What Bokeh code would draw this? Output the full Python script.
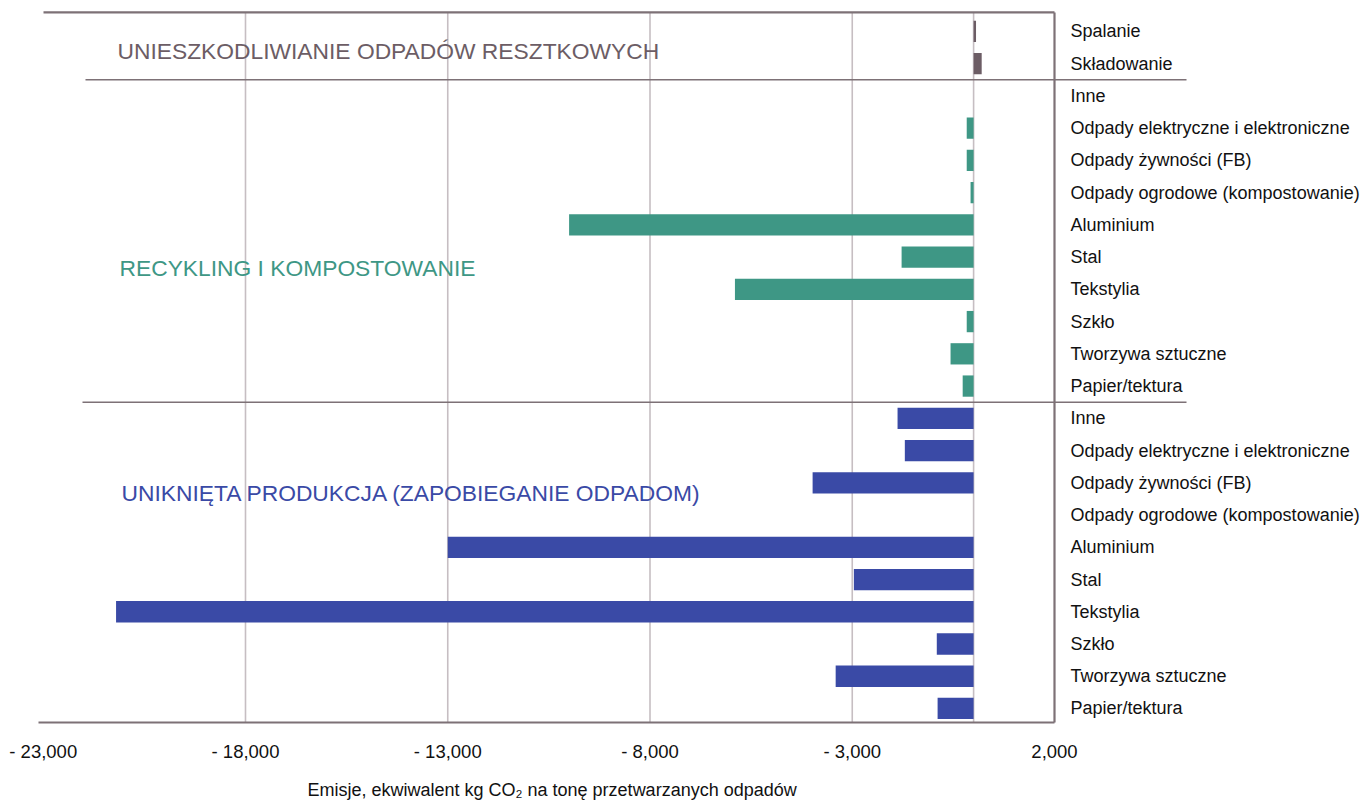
from bokeh.plotting import figure
from bokeh.models import Range1d, FixedTicker, Label, Title
from bokeh.core.properties import value
from bokeh.embed import file_html
from bokeh.resources import INLINE

# Emissions, kg CO2-equivalent per tonne of processed waste
residual_labels = ["Spalanie", "Składowanie"]
residual_values = [60, 200]

material_labels = [
    "Inne",
    "Odpady elektryczne i elektroniczne",
    "Odpady żywności (FB)",
    "Odpady ogrodowe (kompostowanie)",
    "Aluminium",
    "Stal",
    "Tekstylia",
    "Szkło",
    "Tworzywa sztuczne",
    "Papier/tektura",
]
recycling_values = [0, -170, -170, -75, -10000, -1780, -5900, -170, -570, -270]
prevention_values = [-1880, -1700, -3980, 0, -13000, -2960, -21200, -910, -3410, -890]

group_titles = [
    "UNIESZKODLIWIANIE ODPADÓW RESZTKOWYCH",
    "RECYKLING I KOMPOSTOWANIE",
    "UNIKNIĘTA PRODUKCJA (ZAPOBIEGANIE ODPADOM)",
]
x_ticks = [-23000, -18000, -13000, -8000, -3000, 2000]
x_title = "Emisje, ekwiwalent kg CO₂ na tonę przetwarzanych odpadów"

# colours
C_RES = "#6c5d65"
C_REC = "#3e9785"
C_PREV = "#3a4aa6"
C_FRAME = "#7d7176"
C_GRID = "#c6bec2"
C_TEXT = "#111111"
FONT = "Liberation Sans"

# page geometry (pixels)
W, H = 1367, 812
X0_PX, X1_PX = 42.75, 1054.0      # pixel positions of first / last tick
ROW0_PX, PITCH = 31.0, 32.33      # first row centre and row spacing
FRAME_BOTTOM = 730

ux = (x_ticks[-1] - x_ticks[0]) / (X1_PX - X0_PX)
x_start = x_ticks[0] - X0_PX * ux
x_end = x_ticks[-1] + (W - X1_PX) * ux
y_top = -ROW0_PX / PITCH
y_bottom = (FRAME_BOTTOM - ROW0_PX) / PITCH


def px_to_row(py):
    return (py - ROW0_PX) / PITCH


def px_to_x(px):
    return x_ticks[0] + (px - X0_PX) * ux


p = figure(
    width=W, height=H,
    x_range=Range1d(x_start, x_end),
    y_range=Range1d(y_bottom, y_top),
    output_backend="svg", toolbar_location=None,
    y_axis_location=None,
    min_border_left=0, min_border_right=0, min_border_top=0,
    min_border_bottom=H - FRAME_BOTTOM,
    background_fill_color="white", border_fill_color="white",
)
p.outline_line_color = None
p.xgrid.visible = False
p.ygrid.visible = False

res_rows = list(range(len(residual_labels)))
rec_rows = [len(res_rows) + i for i in range(len(material_labels))]
prev_rows = [len(res_rows) + len(material_labels) + i for i in range(len(material_labels))]

top_y = px_to_row(12)
bot_y = px_to_row(724)

# vertical grid lines and zero line
grid_x = x_ticks[1:-1] + [0]
p.segment(x0=grid_x, y0=[top_y] * len(grid_x), x1=grid_x, y1=[bot_y] * len(grid_x),
          line_color=C_GRID, line_width=1.6)

# bars
bar_kw = dict(left=0, height=0.66, line_color=None)
p.hbar(y=res_rows, right=residual_values, fill_color=C_RES, **bar_kw)
p.hbar(y=rec_rows, right=recycling_values, fill_color=C_REC, **bar_kw)
p.hbar(y=prev_rows, right=prevention_values, fill_color=C_PREV, **bar_kw)

# frame: top, right, bottom
p.segment(x0=[px_to_x(43)], y0=[top_y], x1=[x_ticks[-1]], y1=[top_y],
          line_color=C_FRAME, line_width=2.2)
p.segment(x0=[x_ticks[-1]], y0=[top_y], x1=[x_ticks[-1]], y1=[bot_y],
          line_color=C_FRAME, line_width=2.2)
p.segment(x0=[px_to_x(38)], y0=[bot_y], x1=[x_ticks[-1]], y1=[bot_y],
          line_color=C_FRAME, line_width=2.2)

# group separators running under the row labels
sep_y = [len(res_rows) - 0.5, len(res_rows) + len(material_labels) - 0.5]
p.segment(x0=[px_to_x(85), px_to_x(82)], y0=sep_y, x1=[px_to_x(1186)] * 2, y1=sep_y,
          line_color=C_FRAME, line_width=1.5)

# row labels on the right
all_rows = res_rows + rec_rows + prev_rows
all_labels = residual_labels + material_labels + material_labels
p.text(x=[x_ticks[-1]] * len(all_rows), y=all_rows, text=all_labels,
       x_offset=16, text_baseline="middle", text_align="left",
       text_font=value(FONT), text_font_size="18px", text_color=C_TEXT)

# group titles
for title, py, px, col in zip(group_titles, [51, 268, 494], [117, 119, 121],
                              [C_RES, C_REC, C_PREV]):
    p.add_layout(Label(x=px_to_x(px), y=px_to_row(py), text=title,
                       text_baseline="middle", text_align="left",
                       text_font=FONT, text_font_size="22.8px", text_color=col))

# x axis
ax = p.xaxis[0]
ax.ticker = FixedTicker(ticks=x_ticks)
ax.major_label_overrides = {t: (f"- {abs(t):,}" if t < 0 else f"{t:,}") for t in x_ticks}
ax.axis_line_color = None
ax.major_tick_line_color = None
ax.minor_tick_line_color = None
ax.major_tick_out = 0
ax.major_label_standoff = 12
ax.major_label_text_font = FONT
ax.major_label_text_font_size = "18.5px"
ax.major_label_text_color = C_TEXT

# axis title below the tick labels, centred under the value scale
p.add_layout(Title(text=x_title, align="left", offset=307, standoff=26,
                   text_font=FONT, text_font_size="18px", text_font_style="normal",
                   text_color=C_TEXT), "below")

open("out.html", "w").write(file_html(p, INLINE))
